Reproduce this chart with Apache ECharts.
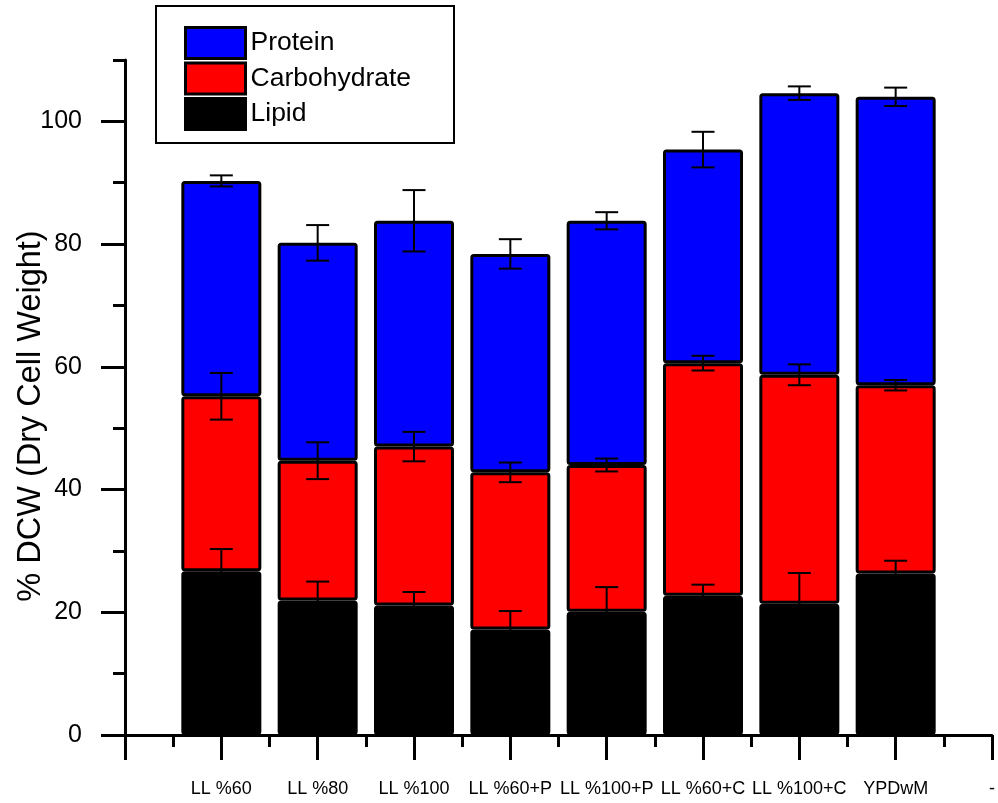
<!DOCTYPE html>
<html>
<head>
<meta charset="utf-8">
<script src="https://cdn.jsdelivr.net/npm/echarts@6/dist/echarts.min.js"></script>
<style>
  html, body { margin: 0; padding: 0; background: #ffffff; }
  #chart { width: 998px; height: 803px; }
</style>
</head>
<body>
<div id="chart"></div>
<script>
// Biomass composition per culture condition (% of dry cell weight)
const categories = ['LL %60', 'LL %80', 'LL %100', 'LL %60+P', 'LL %100+P', 'LL %60+C', 'LL %100+C', 'YPDwM'];
const trailingLabel = '-';

const lipid        = [26.7, 21.9, 21.1, 17.2, 20.1, 22.7, 21.4, 26.3];
const carbohydrate = [28.5, 22.8, 25.9, 25.6, 23.9, 37.9, 37.3, 30.7];
const protein      = [35.1, 35.5, 36.8, 35.6, 39.8, 34.8, 45.9, 47.0];

const lipidErr        = [3.6, 3.1, 2.2, 3.0, 4.0, 1.8, 5.0, 2.1];
const carbohydrateErr = [3.8, 3.0, 2.4, 1.6, 1.05, 1.2, 1.7, 0.85];
const proteinErr      = [0.9, 2.9, 5.0, 2.4, 1.4, 2.9, 1.1, 1.5];

const yMajorTicks = [0, 20, 40, 60, 80, 100];
const yMinorTicks = [10, 30, 50, 70, 90, 110];

const FONT = 'Liberation Sans, Arial, Helvetica, sans-serif';

// axis slots: an empty slot at the origin, the conditions, then the trailing slot
const axisSlots = [''].concat(categories, [trailingLabel]);
const pairs = (vals) => vals.map((v, i) => [categories[i], v]);

// error bars are drawn at the top of each stacked segment
const errData = [];
categories.forEach((name, i) => {
  const t1 = lipid[i];
  const t2 = t1 + carbohydrate[i];
  const t3 = t2 + protein[i];
  errData.push([name, t1, lipidErr[i]]);
  errData.push([name, t2, carbohydrateErr[i]]);
  errData.push([name, t3, proteinErr[i]]);
});

const barStyle = (color) => ({ color: color, borderColor: '#000', borderWidth: 3, borderRadius: 2 });
const tickLine = { color: '#000', width: 3 };

const chart = echarts.init(document.getElementById('chart'), null, { renderer: 'canvas' });

chart.setOption({
  animation: false,
  backgroundColor: '#ffffff',
  textStyle: { fontFamily: FONT, color: '#000' },
  grid: { left: 125, right: 0, top: 60, bottom: 68, containLabel: false },
  legend: {
    data: ['Protein', 'Carbohydrate', 'Lipid'],
    orient: 'vertical',
    left: 184,
    top: 26,
    padding: 0,
    itemWidth: 60,
    itemHeight: 31,
    itemGap: 1.5,
    icon: 'rect',
    itemStyle: { borderColor: '#000', borderWidth: 3 },
    textStyle: { fontFamily: FONT, fontSize: 26.5, lineHeight: 31, color: '#000' },
    selectedMode: false
  },
  graphic: [
    {
      type: 'rect',
      shape: { x: 156, y: 6, width: 298, height: 137 },
      style: { fill: 'none', stroke: '#000', lineWidth: 2 },
      z: 0
    },
    {
      type: 'text',
      x: 31,
      y: 416,
      rotation: Math.PI / 2,
      style: {
        text: '% DCW (Dry Cell Weight)',
        fontFamily: FONT,
        fontSize: 32.5,
        fill: '#000',
        align: 'center',
        verticalAlign: 'middle'
      }
    }
  ],
  xAxis: [
    {
      type: 'category',
      data: axisSlots,
      boundaryGap: false,
      axisLine: { show: true, onZero: false, lineStyle: tickLine },
      axisTick: { show: false },
      splitLine: { show: false },
      axisLabel: {
        interval: 0,
        margin: 45,
        fontFamily: FONT,
        fontSize: 18,
        color: '#000',
        showMinLabel: true,
        showMaxLabel: true,
        hideOverlap: false
      }
    },
    {
      // tick marks: long at every slot, short half way between
      type: 'value',
      min: 0,
      max: axisSlots.length - 1,
      interval: 1,
      position: 'bottom',
      axisLine: { show: false, onZero: false },
      axisTick: { show: true, length: 25, lineStyle: tickLine },
      minorTick: { show: true, splitNumber: 2, length: 12, lineStyle: tickLine },
      axisLabel: { show: false },
      splitLine: { show: false },
      minorSplitLine: { show: false }
    }
  ],
  yAxis: [
    {
      type: 'value',
      min: 0,
      max: 110,
      interval: 10,
      position: 'left',
      axisLine: { show: true, onZero: false, lineStyle: tickLine },
      axisTick: { show: true, length: 24, customValues: yMajorTicks, lineStyle: tickLine },
      axisLabel: { customValues: yMajorTicks, margin: 43, fontFamily: FONT, fontSize: 25, color: '#000' },
      splitLine: { show: false }
    },
    {
      type: 'value',
      min: 0,
      max: 110,
      interval: 10,
      position: 'left',
      axisLine: { show: false },
      axisTick: { show: true, length: 12, customValues: yMinorTicks, lineStyle: tickLine },
      axisLabel: { show: false },
      splitLine: { show: false }
    }
  ],
  series: [
    {
      name: 'Lipid', type: 'bar', stack: 'dcw', barWidth: 80,
      data: pairs(lipid), itemStyle: barStyle('#000000'), z: 2
    },
    {
      name: 'Carbohydrate', type: 'bar', stack: 'dcw', barWidth: 80,
      data: pairs(carbohydrate), itemStyle: barStyle('#ff0000'), z: 2
    },
    {
      name: 'Protein', type: 'bar', stack: 'dcw', barWidth: 80,
      data: pairs(protein), itemStyle: barStyle('#0000ff'), z: 2
    },
    {
      name: 'error', type: 'custom', z: 5,
      encode: { x: 0, y: 1 },
      data: errData,
      renderItem: (params, api) => {
        const x = api.value(0);
        const c = api.value(1);
        const e = api.value(2);
        const hi = api.coord([x, c + e]);
        const lo = api.coord([x, c - e]);
        const hw = 11.5;
        const st = { stroke: '#000', lineWidth: 2 };
        return {
          type: 'group',
          children: [
            { type: 'line', shape: { x1: hi[0], y1: hi[1], x2: lo[0], y2: lo[1] }, style: st },
            { type: 'line', shape: { x1: hi[0] - hw, y1: hi[1], x2: hi[0] + hw, y2: hi[1] }, style: st },
            { type: 'line', shape: { x1: lo[0] - hw, y1: lo[1], x2: lo[0] + hw, y2: lo[1] }, style: st }
          ]
        };
      }
    }
  ]
});
</script>
</body>
</html>
